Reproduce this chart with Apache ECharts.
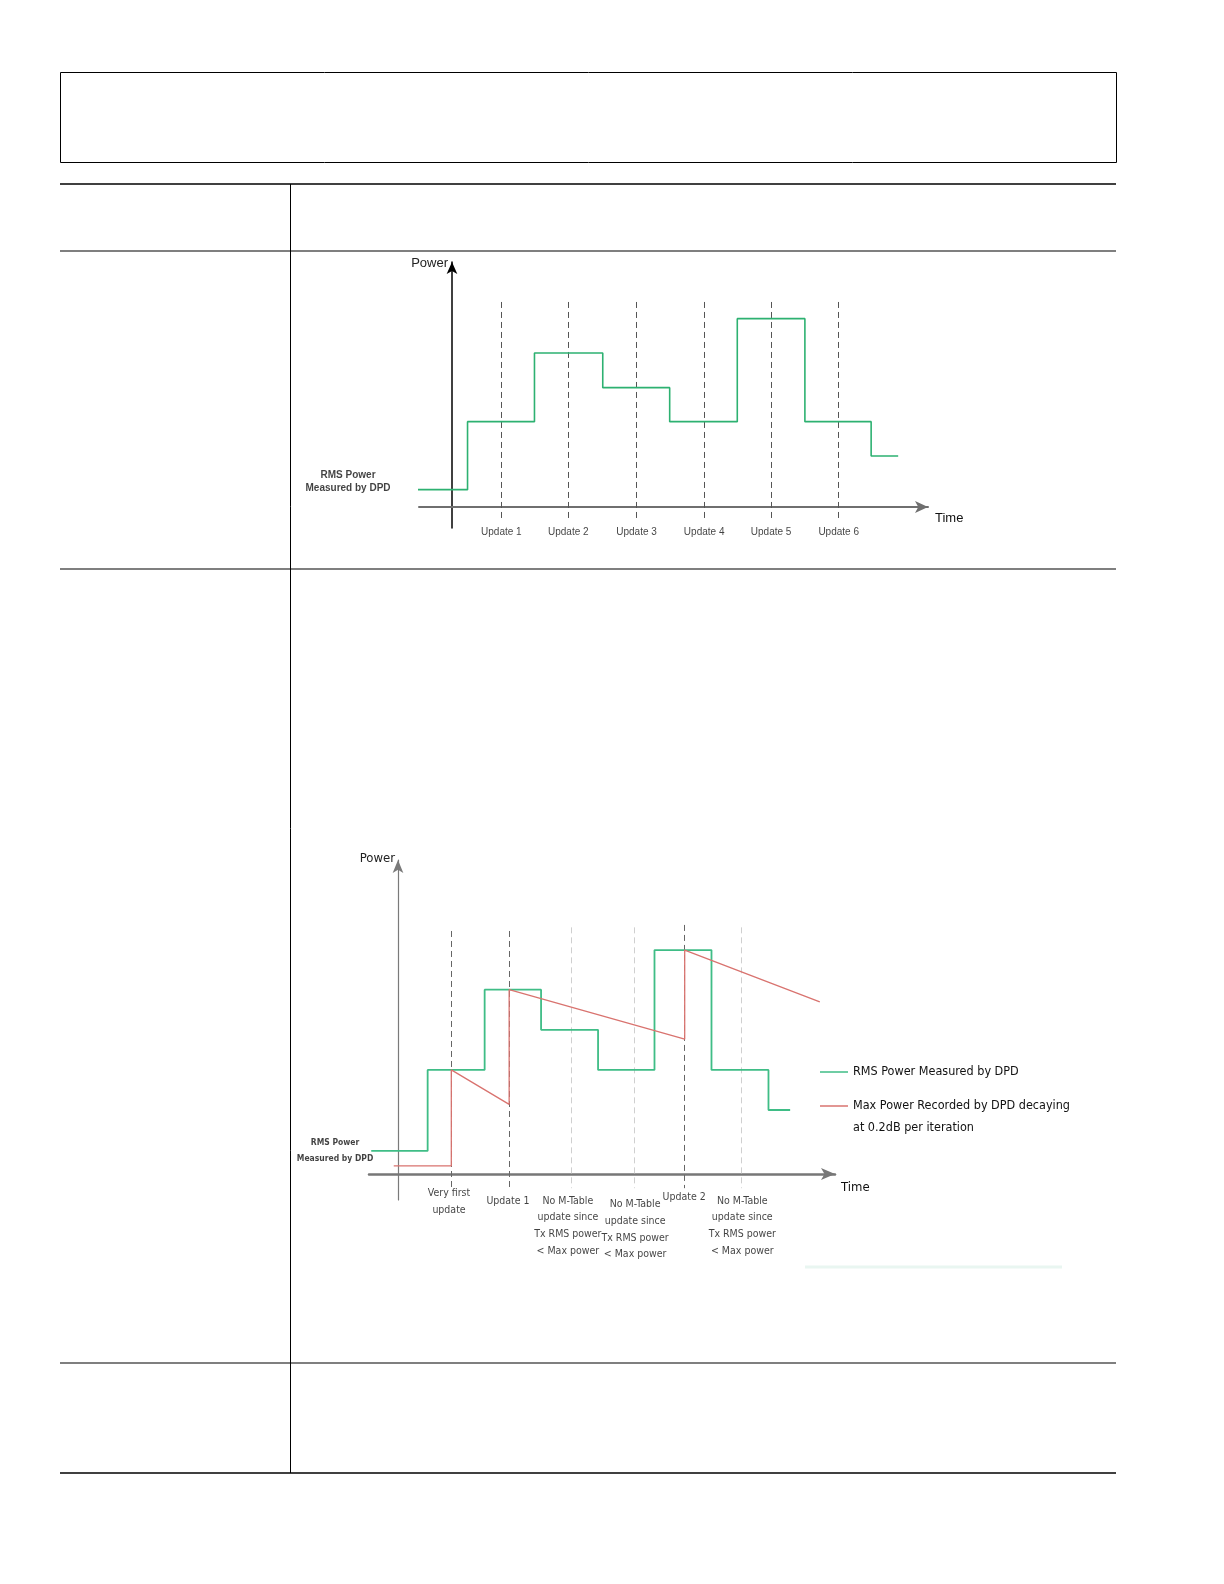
<!DOCTYPE html>
<html><head><meta charset="utf-8">
<script src="https://cdn.jsdelivr.net/npm/echarts@6/dist/echarts.min.js"></script>
<style>html,body{margin:0;padding:0;background:#fff;overflow:hidden}#c{width:1224px;height:1584px}</style>
</head><body><div id="c"></div>
<script>
// ---------- Chart 1 (upper) ----------
const c1UpdateLabels = ['Update 1', 'Update 2', 'Update 3', 'Update 4', 'Update 5', 'Update 6'];
const c1UpdateTimes = [0.73, 1.72, 2.73, 3.73, 4.72, 5.72];
const c1GreenTimes = [-0.77, 0.23, 1.22, 2.23, 3.22, 4.22, 5.22, 6.2, 6.6];
const c1GreenLevels = [0.51, 2.51, 4.53, 3.51, 2.51, 5.54, 2.51, 1.5];
const c1DashTop = 6.03, c1DashBottom = -0.44;
const c1LabelPower = -0.74;

// ---------- Chart 2 (lower) ----------
const c2SeriesGreen = 'RMS Power Measured by DPD';
const c2SeriesRed = 'Max Power Recorded by DPD decaying\nat 0.2dB per iteration';
const c2GreenTimes = [-0.47, 0.52, 1.52, 2.51, 3.51, 4.5, 5.5, 6.5, 6.88];
const c2GreenLevels = [0.57, 2.57, 4.55, 3.56, 2.57, 5.53, 2.57, 1.58];
const c2RedTimes = [-0.075, 0.935, 0.935, 1.95, 1.95, 5.03, 5.03, 7.4];
const c2RedValues = [0.2, 0.2, 2.57, 1.72, 4.55, 3.33, 5.53, 4.25];
const c2UpdateTimes = [0.935, 1.95, 3.04, 4.14, 5.03, 6.02];
const c2UpdateIsReal = [true, true, false, false, true, false];
const c2DashTop = [6.0, 6.0, 6.09, 6.09, 6.15, 6.09];
const c2DashBottom = -0.35;
const c2Labels = ['Very first\nupdate', 'Update 1', 'No M-Table\nupdate since\nTx RMS power\n< Max power',
  'No M-Table\nupdate since\nTx RMS power\n< Max power', 'Update 2', 'No M-Table\nupdate since\nTx RMS power\n< Max power'];
const c2LabelTimes = [0.895, 1.93, 2.98, 4.16, 5.02, 6.04];
const c2LabelPower = [-0.68, -0.667, -1.284, -1.37, -0.568, -1.284];

const FONT1 = "'Liberation Sans', Arial, sans-serif";
const FONT2 = "'Liberation Sans Narrow', 'DejaVu Sans Condensed', 'Liberation Sans', sans-serif";
const GREEN1 = '#2db171', GREEN2 = '#3fbd86', RED = '#d9736f';

function steps(times, levels) {
  const pts = [];
  for (let i = 0; i < levels.length; i++) {
    pts.push([times[i], levels[i]]);
    pts.push([times[i + 1], levels[i]]);
  }
  return pts;
}

const chart = echarts.init(document.getElementById('c'), null, { renderer: 'canvas' });

const option = {
  backgroundColor: '#fff',
  animation: false,
  graphic: [
    { type: 'rect', shape: { x: 60.5, y: 72.5, width: 1056, height: 90 }, style: { fill: 'none', stroke: '#000', lineWidth: 1 } },
    { type: 'line', shape: { x1: 60, y1: 184, x2: 1116, y2: 184 }, style: { stroke: '#000', lineWidth: 1.6 } },
    { type: 'line', shape: { x1: 60, y1: 251, x2: 1116, y2: 251 }, style: { stroke: '#000', lineWidth: 1.2 } },
    { type: 'line', shape: { x1: 60, y1: 569, x2: 1116, y2: 569 }, style: { stroke: '#000', lineWidth: 1.2 } },
    { type: 'line', shape: { x1: 60, y1: 1363, x2: 1116, y2: 1363 }, style: { stroke: '#000', lineWidth: 1.2 } },
    { type: 'line', shape: { x1: 60, y1: 1473, x2: 1116, y2: 1473 }, style: { stroke: '#000', lineWidth: 1.6 } },
    { type: 'line', shape: { x1: 290.5, y1: 184, x2: 290.5, y2: 1473 }, style: { stroke: '#000', lineWidth: 1 } },
    { type: 'line', shape: { x1: 805, y1: 1267, x2: 1062, y2: 1267 }, style: { stroke: '#e9f6f1', lineWidth: 3 } }
  ],
  grid: [
    { left: 419, top: 262, width: 509, height: 266 },
    { left: 369, top: 860, width: 466, height: 340 }
  ],
  xAxis: [
    {
      gridIndex: 0, type: 'value', min: -0.488, max: 7.041,
      name: 'Time', nameLocation: 'end', nameGap: 7,
      nameTextStyle: { fontFamily: FONT1, fontSize: 13, color: '#111', verticalAlign: 'top', padding: [5, 0, 0, 0] },
      axisLine: { onZero: true, symbol: ['none', 'arrow'], symbolSize: [9, 13], lineStyle: { color: '#6f6f6f', width: 2 } },
      axisTick: { show: false }, axisLabel: { show: false }, splitLine: { show: false }
    },
    {
      gridIndex: 1, type: 'value', min: -0.509, max: 7.667,
      name: 'Time', nameLocation: 'end', nameGap: 6,
      nameTextStyle: { fontFamily: FONT2, fontSize: 13, color: '#111', verticalAlign: 'top', padding: [7, 0, 0, 0] },
      axisLine: { onZero: true, symbol: ['none', 'arrow'], symbolSize: [9, 14], lineStyle: { color: '#777', width: 2.5 } },
      axisTick: { show: false }, axisLabel: { show: false }, splitLine: { show: false }
    }
  ],
  yAxis: [
    {
      gridIndex: 0, type: 'value', min: -0.618, max: 7.206,
      name: 'Power', nameLocation: 'end', nameGap: 5,
      nameTextStyle: { fontFamily: FONT1, fontSize: 13, color: '#222', align: 'right', verticalAlign: 'top', padding: [0, 4, 0, 0] },
      axisLine: { onZero: true, symbol: ['none', 'arrow'], symbolSize: [8, 12], lineStyle: { color: '#000', width: 1.5 } },
      axisTick: { show: false }, axisLabel: { show: false }, splitLine: { show: false }
    },
    {
      gridIndex: 1, type: 'value', min: -0.642, max: 7.753,
      name: 'Power', nameLocation: 'end', nameGap: 8,
      nameTextStyle: { fontFamily: FONT2, fontSize: 13, color: '#222', align: 'right', verticalAlign: 'top', padding: [0, 3, 0, 0] },
      axisLine: { onZero: true, symbol: ['none', 'arrow'], symbolSize: [8, 13], lineStyle: { color: '#7a7a7a', width: 1.2 } },
      axisTick: { show: false }, axisLabel: { show: false }, splitLine: { show: false }
    }
  ],
  legend: [
    {
      left: 820, top: 1061, orient: 'vertical', padding: 0, itemWidth: 28, itemHeight: 1.5, itemGap: 0,
      selectedMode: false, data: [{ name: c2SeriesGreen, icon: 'rect' }],
      textStyle: { fontFamily: FONT2, fontSize: 12.5, color: '#111', lineHeight: 22 }
    },
    {
      left: 820, top: 1073, orient: 'vertical', padding: 0, itemWidth: 28, itemHeight: 1.5, itemGap: 0,
      selectedMode: false, data: [{ name: c2SeriesRed, icon: 'rect' }],
      formatter: name => ' \n' + name,
      textStyle: { fontFamily: FONT2, fontSize: 12.5, color: '#111', lineHeight: 22 }
    }
  ],
  series: [
    // chart 1 dashed update lines
    {
      type: 'lines', coordinateSystem: 'cartesian2d', xAxisIndex: 0, yAxisIndex: 0, clip: false, silent: true,
      lineStyle: { color: '#555', width: 1, type: [6, 4], opacity: 1 },
      data: c1UpdateTimes.map(t => ({ coords: [[t, c1DashTop], [t, c1DashBottom]] }))
    },
    {
      name: 'RMS Power (chart 1)', type: 'line', xAxisIndex: 0, yAxisIndex: 0, clip: false, silent: true,
      symbol: 'none', lineStyle: { color: GREEN1, width: 1.6 },
      data: steps(c1GreenTimes, c1GreenLevels)
    },
    {
      type: 'scatter', xAxisIndex: 0, yAxisIndex: 0, clip: false, silent: true,
      symbolSize: 1, itemStyle: { color: 'rgba(0,0,0,0)' },
      label: { show: true, position: 'inside', formatter: '{b}', fontFamily: FONT1, fontSize: 10, color: '#111' },
      data: c1UpdateLabels.map((n, i) => ({ name: n, value: [c1UpdateTimes[i], c1LabelPower] }))
    },
    {
      type: 'scatter', xAxisIndex: 0, yAxisIndex: 0, clip: false, silent: true,
      symbolSize: 1, itemStyle: { color: 'rgba(0,0,0,0)' },
      label: { show: true, position: 'inside', formatter: '{b}', fontFamily: FONT1, fontSize: 10, fontWeight: 'bold', color: '#111', lineHeight: 13, align: 'center' },
      data: [{ name: 'RMS Power\nMeasured by DPD', value: [-1.538, 0.75] }]
    },
    // chart 2 dashed update lines
    {
      type: 'lines', coordinateSystem: 'cartesian2d', xAxisIndex: 1, yAxisIndex: 1, clip: false, silent: true,
      lineStyle: { width: 1, type: [6, 4], opacity: 1 },
      data: c2UpdateTimes.map((t, i) => ({
        coords: [[t, c2DashTop[i]], [t, c2DashBottom]],
        lineStyle: { color: c2UpdateIsReal[i] ? '#666' : '#cfcfcf' }
      }))
    },
    {
      name: c2SeriesGreen, type: 'line', xAxisIndex: 1, yAxisIndex: 1, clip: false, silent: true,
      symbol: 'none', lineStyle: { color: GREEN2, width: 1.8 }, itemStyle: { color: GREEN2 },
      data: steps(c2GreenTimes, c2GreenLevels)
    },
    {
      name: c2SeriesRed, type: 'line', xAxisIndex: 1, yAxisIndex: 1, clip: false, silent: true,
      symbol: 'none', lineStyle: { color: RED, width: 1.3 }, itemStyle: { color: RED },
      data: c2RedTimes.map((t, i) => [t, c2RedValues[i]])
    },
    {
      type: 'scatter', xAxisIndex: 1, yAxisIndex: 1, clip: false, silent: true,
      symbolSize: 1, itemStyle: { color: 'rgba(0,0,0,0)' },
      label: { show: true, position: 'inside', formatter: '{b}', fontFamily: FONT2, fontSize: 10.5, color: '#111', lineHeight: 16.7, align: 'center' },
      data: c2Labels.map((n, i) => ({ name: n, value: [c2LabelTimes[i], c2LabelPower[i]] }))
    },
    {
      type: 'scatter', xAxisIndex: 1, yAxisIndex: 1, clip: false, silent: true,
      symbolSize: 1, itemStyle: { color: 'rgba(0,0,0,0)' },
      label: { show: true, position: 'inside', formatter: '{b}', fontFamily: FONT2, fontSize: 8.5, fontWeight: 'bold', color: '#111', lineHeight: 16, align: 'center' },
      data: [{ name: 'RMS Power\nMeasured by DPD', value: [-1.105, 0.568] }]
    }
  ]
};
chart.setOption(option);
</script>
</body></html>
